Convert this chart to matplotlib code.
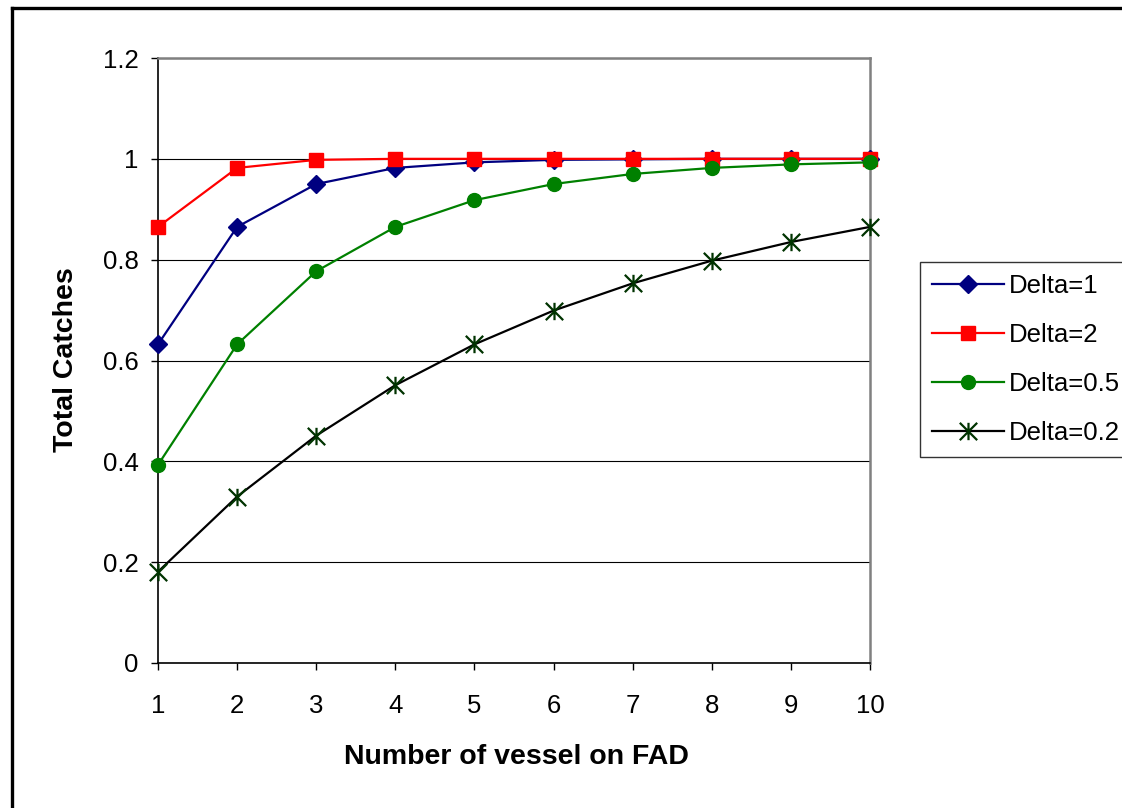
import matplotlib
matplotlib.use("Agg")
import matplotlib.pyplot as plt
from matplotlib.path import Path
from matplotlib.lines import Line2D

plt.rcParams['font.family'] = ['Liberation Sans', 'DejaVu Sans']

vessels = [1, 2, 3, 4, 5, 6, 7, 8, 9, 10]
delta_1 = [0.632, 0.865, 0.950, 0.982, 0.993, 0.998, 0.999, 1.0, 1.0, 1.0]
delta_2 = [0.865, 0.982, 0.998, 1.0, 1.0, 1.0, 1.0, 1.0, 1.0, 1.0]
delta_05 = [0.393, 0.632, 0.777, 0.865, 0.918, 0.950, 0.970, 0.982, 0.989, 0.993]
delta_02 = [0.181, 0.330, 0.451, 0.551, 0.632, 0.699, 0.753, 0.798, 0.835, 0.865]
labels = ['Delta=1', 'Delta=2', 'Delta=0.5', 'Delta=0.2']
yticks = [0, 0.2, 0.4, 0.6, 0.8, 1.0, 1.2]
ytick_labels = ['0', '0.2', '0.4', '0.6', '0.8', '1', '1.2']

W, H = 1122, 808
fig = plt.figure(figsize=(W / 100, H / 100), dpi=100)
ax = fig.add_axes([158 / W, 1 - 663 / H, (870 - 158) / W, (663 - 58) / H])

star = Path([(0, -1), (0, 1), (-1, -1), (1, 1), (-1, 1), (1, -1)],
            [Path.MOVETO, Path.LINETO, Path.MOVETO, Path.LINETO, Path.MOVETO, Path.LINETO])

ax.plot(vessels, delta_1, color='#000080', lw=1.6, marker='D', ms=9,
        mfc='#000080', mec='#000080', label=labels[0], clip_on=False, zorder=3)
ax.plot(vessels, delta_2, color='#FF0000', lw=1.6, marker='s', ms=9.5,
        mfc='#FF0000', mec='#FF0000', label=labels[1], clip_on=False, zorder=4)
ax.plot(vessels, delta_05, color='#008000', lw=1.6, marker='o', ms=10,
        mfc='#008000', mec='#008000', label=labels[2], clip_on=False, zorder=5)
ax.plot(vessels, delta_02, color='#000000', lw=1.6, marker=star, ms=12.5, mew=1.6,
        mfc='#003300', mec='#003300', label=labels[3], clip_on=False, zorder=6)

ax.set_xlim(1, 10)
ax.set_ylim(0, 1.2)
ax.set_xticks(vessels)
ax.set_yticks(yticks)
ax.set_yticklabels(ytick_labels)
ax.yaxis.grid(True, color='#000000', lw=0.8)
ax.set_axisbelow(True)

for s in ['top', 'right']:
    ax.spines[s].set_color('#808080')
    ax.spines[s].set_linewidth(1.8)
for s in ['left', 'bottom']:
    ax.spines[s].set_color('#000000')
    ax.spines[s].set_linewidth(1.2)

ax.tick_params(axis='x', direction='out', length=5, width=1, pad=17, labelsize=18.5, colors='#000000')
ax.tick_params(axis='y', direction='out', length=5, width=1, pad=9, labelsize=18.5, colors='#000000')

fig.text(516 / W, 1 - 757 / H, 'Number of vessel on FAD', ha='center', va='center',
         fontsize=20.5, fontweight='bold')
fig.text(66 / W, 1 - 360 / H, 'Total Catches', ha='center', va='center',
         fontsize=20.5, fontweight='bold', rotation=90)

leg = fig.legend(loc='upper left', bbox_to_anchor=(920 / W, 1 - 262 / H),
                 fontsize=18.5, frameon=True, fancybox=False, edgecolor='#000000',
                 handlelength=2.8, handletextpad=0.2, labelspacing=0.98,
                 borderpad=0.45, borderaxespad=0)
leg.get_frame().set_linewidth(1.0)

fig.add_artist(Line2D([12 / W, 1], [1 - 8 / H, 1 - 8 / H], transform=fig.transFigure,
                      color='black', lw=2.4))
fig.add_artist(Line2D([12 / W, 12 / W], [0, 1 - 8 / H], transform=fig.transFigure,
                      color='black', lw=2.4))

fig.savefig('out.png', dpi=100)
